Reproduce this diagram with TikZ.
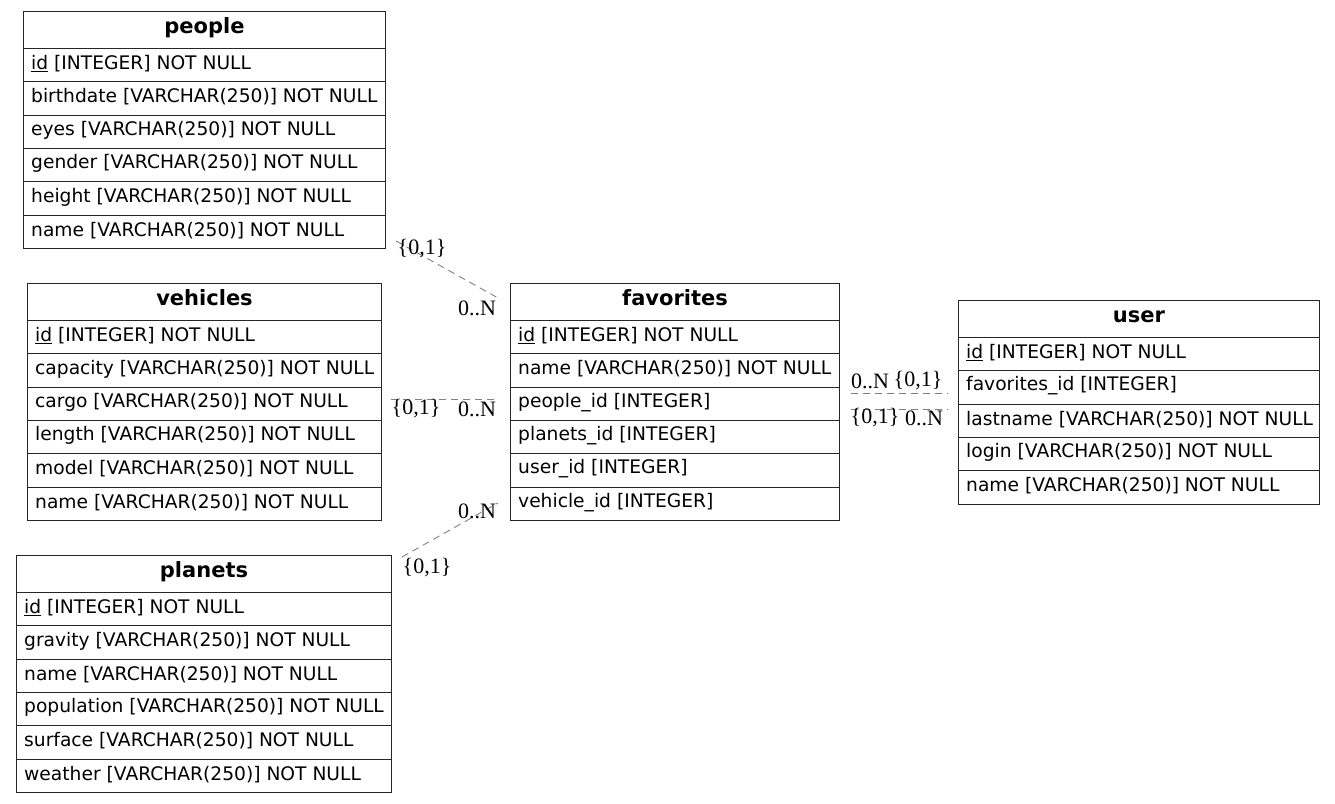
\documentclass[tikz,border=0pt]{standalone}
\usepackage{fontspec}
\setmainfont{DejaVu Sans}
\newfontfamily\cardfont{Liberation Serif}

\tikzset{
  erbox/.style={draw=black!85, line width=1pt, minimum height=33.33pt, inner sep=0pt},
  erhead/.style={erbox, minimum height=37pt, text height=15pt, text depth=8pt, font=\fontsize{21}{24}\selectfont\bfseries},
  erfield/.style={anchor=west, inner sep=0pt, font=\fontsize{18.67}{22}\selectfont},
  card/.style={inner sep=0pt, font=\fontsize{22}{24}\selectfont\cardfont},
  rel/.style={draw=gray, line width=0.9pt, dash pattern=on 7pt off 5pt}
}

% #1 name, #2 left, #3 top, #4 width, #5 title, #6 fields
\newcommand{\ertable}[6]{
  \node[erhead, minimum width=#4pt, anchor=north west] (#1) at (#2,#3) {#5};
  \foreach \f [count=\i] in {#6} {
    \node[erbox, minimum width=#4pt, anchor=north west] (#1-\i) at (#2,#3+3.67+33.33*\i) {};
    \node[erfield] at ([xshift=8pt, yshift=1.5pt]#1-\i.west) {\f};
  }
}

\begin{document}
\begin{tikzpicture}[x=1pt, y=-1pt]
    \useasboundingbox (0,0) rectangle (1335,803);

    \ertable{people}{23}{11}{362}{people}{\underline{id} [INTEGER] NOT NULL,
        birthdate [VARCHAR(250)] NOT NULL, eyes [VARCHAR(250)] NOT NULL,
        gender [VARCHAR(250)] NOT NULL, height [VARCHAR(250)] NOT NULL,
        name [VARCHAR(250)] NOT NULL}
    \ertable{vehicles}{27}{283}{354}{vehicles}{\underline{id} [INTEGER] NOT NULL,
        capacity [VARCHAR(250)] NOT NULL, cargo [VARCHAR(250)] NOT NULL,
        length [VARCHAR(250)] NOT NULL, model [VARCHAR(250)] NOT NULL,
        name [VARCHAR(250)] NOT NULL}
    \ertable{planets}{16}{555}{375}{planets}{\underline{id} [INTEGER] NOT NULL,
        gravity [VARCHAR(250)] NOT NULL, name [VARCHAR(250)] NOT NULL,
        population [VARCHAR(250)] NOT NULL, surface [VARCHAR(250)] NOT NULL,
        weather [VARCHAR(250)] NOT NULL}
    \ertable{favorites}{510}{283}{329}{favorites}{\underline{id} [INTEGER] NOT NULL,
        name [VARCHAR(250)] NOT NULL, people\_id [INTEGER],
        planets\_id [INTEGER], user\_id [INTEGER], vehicle\_id [INTEGER]}
    \ertable{user}{958}{300}{361}{user}{\underline{id} [INTEGER] NOT NULL,
        favorites\_id [INTEGER], lastname [VARCHAR(250)] NOT NULL,
        login [VARCHAR(250)] NOT NULL, name [VARCHAR(250)] NOT NULL}

    % relations
    \coordinate (pf-a) at ([shift={(10,-8)}]people-6.south east);
    \coordinate (pf-b) at ([shift={(-12,15)}]favorites.north west);
    \coordinate (vf-a) at ([shift={(9,-4)}]vehicles-3.east);
    \coordinate (vf-b) at ([shift={(-12,-4)}]favorites-3.west);
    \coordinate (lf-a) at ([shift={(10,2)}]planets.north east);
    \coordinate (lf-b) at ([shift={(-12,-18)}]favorites-6.south west);
    \coordinate (fu-a) at ([shift={(11,-10.3)}]favorites-3.east);
    \coordinate (fu-b) at ([shift={(-10,6)}]user-2.west);
    \coordinate (uf-a) at ([shift={(11,5.7)}]favorites-3.east);
    \coordinate (uf-b) at ([shift={(-10,22)}]user-2.west);

    \draw[rel] (pf-a) -- (pf-b);
    \draw[rel] (vf-a) -- (vf-b);
    \draw[rel] (lf-a) -- (lf-b);
    \draw[rel] (fu-a) -- (fu-b);
    \draw[rel] (uf-a) -- (uf-b);

    \node[card] (pf-1) at (422,249) {\{0,1\}};
    \node[card] (pf-n) at (477,308) {0..N};
    \node[card] (vf-1) at (416,409) {\{0,1\}};
    \node[card] (vf-n) at (477,409) {0..N};
    \node[card] (lf-n) at (477,511) {0..N};
    \node[card] (lf-1) at (427,568) {\{0,1\}};
    \node[card] (fu-n) at (870,381) {0..N};
    \node[card] (fu-1) at (918,381) {\{0,1\}};
    \node[card] (uf-1) at (875,418) {\{0,1\}};
    \node[card] (uf-n) at (924,418) {0..N};
\end{tikzpicture}
\end{document}
